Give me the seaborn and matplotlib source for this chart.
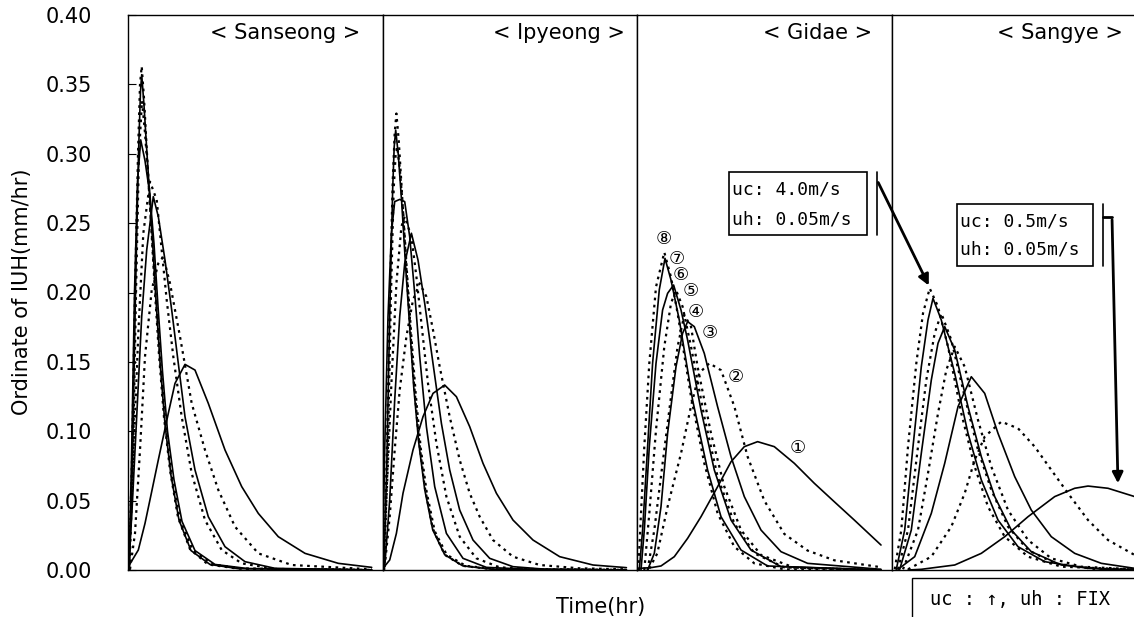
import matplotlib
matplotlib.use("Agg")
import numpy as np
import pandas as pd
import matplotlib.pyplot as plt
import seaborn as sns
from matplotlib.patches import Rectangle, FancyArrowPatch
from matplotlib.lines import Line2D

# ---------------- data (time in hr, ordinate in mm/hr) ----------------
STATIONS = ["< Sanseong >", "< Ipyeong >", "< Gidae >", "< Sangye >"]
CURVES = ["1", "2", "3", "4", "5", "6", "7", "8"]
CIRCLED = ["\u2460", "\u2461", "\u2462", "\u2463", "\u2464", "\u2465", "\u2466", "\u2467"]
Y_TICKS = [0.00, 0.05, 0.10, 0.15, 0.20, 0.25, 0.30, 0.35, 0.40]

SANSEONG_T = [
    [0.03, 1.03, 1.7, 2.37, 3.03, 4.03, 4.7, 5.7, 6.7, 8.03, 9.7, 11.37, 13.03, 15.03, 17.7, 21.03, 24.37],
    [0.2, 0.7, 1.2, 1.7, 2.37, 3.03, 3.53, 4.2, 5.2, 6.37, 7.7, 9.03, 10.7, 13.03, 16.37, 24.37],
    [0.03, 0.37, 0.87, 1.37, 1.87, 2.53, 3.03, 3.7, 4.37, 5.03, 5.7, 6.7, 8.03, 9.7, 11.7, 14.7, 24.37],
    [0.03, 0.37, 0.7, 1.03, 1.53, 2.2, 2.87, 3.37, 3.87, 4.53, 5.37, 6.37, 7.7, 9.37, 11.37, 14.7, 24.37],
    [0.1, 0.35, 0.65, 0.95, 1.27, 1.7, 2.2, 2.6, 3.0, 3.45, 3.95, 4.6, 5.4, 6.7, 8.7, 12.0, 24.37],
    [0.15, 0.5, 0.8, 1.1, 1.4, 1.7, 2.0, 2.4, 2.8, 3.25, 3.75, 4.4, 5.2, 6.5, 8.5, 11.5, 24.37],
    [0.15, 0.45, 0.75, 1.05, 1.25, 1.37, 1.6, 1.9, 2.35, 2.75, 3.2, 3.7, 4.3, 5.1, 6.3, 8.2, 11.0, 24.37],
    [0.1, 0.4, 0.7, 1.0, 1.2, 1.37, 1.6, 1.9, 2.3, 2.7, 3.1, 3.6, 4.2, 5.0, 6.2, 8.0, 11.0, 24.37],
]
SANSEONG_V = [
    [0.0024, 0.0144, 0.0336, 0.0565, 0.0793, 0.1129, 0.1345, 0.1482, 0.1441, 0.1201, 0.0865, 0.0601, 0.0408, 0.024, 0.012, 0.0048, 0.0019],
    [0.0005, 0.0264, 0.0865, 0.1538, 0.2018, 0.221, 0.2258, 0.2066, 0.1682, 0.1201, 0.0865, 0.0577, 0.0312, 0.012, 0.0036, 0.0005],
    [0.0024, 0.0384, 0.1105, 0.1826, 0.2306, 0.2691, 0.2547, 0.2234, 0.1874, 0.1489, 0.1105, 0.0721, 0.0384, 0.0168, 0.006, 0.0012, 0.0],
    [0.0024, 0.0504, 0.1105, 0.1706, 0.2426, 0.2799, 0.2667, 0.2306, 0.1946, 0.1538, 0.1105, 0.0697, 0.036, 0.0144, 0.0048, 0.0007, 0.0],
    [0.0, 0.08, 0.2, 0.28, 0.31, 0.295, 0.27, 0.235, 0.19, 0.143, 0.1, 0.065, 0.035, 0.014, 0.004, 0.001, 0.0],
    [0.0, 0.08, 0.2, 0.3, 0.338, 0.315, 0.285, 0.24, 0.195, 0.148, 0.105, 0.068, 0.036, 0.014, 0.004, 0.001, 0.0],
    [0.0, 0.08, 0.2, 0.3, 0.345, 0.357, 0.335, 0.3, 0.25, 0.2, 0.15, 0.105, 0.068, 0.036, 0.014, 0.004, 0.001, 0.0],
    [0.0, 0.08, 0.2, 0.3, 0.35, 0.363, 0.34, 0.3, 0.25, 0.2, 0.155, 0.11, 0.072, 0.038, 0.015, 0.004, 0.001, 0.0],
]

IPYEONG_T = [
    [0.03, 0.7, 1.37, 2.03, 3.03, 4.03, 5.03, 6.2, 7.37, 8.7, 10.03, 11.37, 13.03, 15.03, 17.7, 21.03, 24.37],
    [0.2, 0.7, 1.2, 1.7, 2.37, 3.03, 3.7, 4.37, 5.03, 5.7, 6.7, 7.7, 8.7, 9.7, 11.03, 13.03, 15.7, 19.7, 24.37],
    [0.2, 0.7, 1.2, 1.7, 2.2, 2.87, 3.53, 4.2, 5.03, 5.87, 6.7, 7.7, 9.03, 10.7, 13.03, 16.37, 24.37],
    [0.03, 0.37, 0.87, 1.37, 1.87, 2.2, 2.87, 3.37, 3.87, 4.53, 5.37, 6.37, 7.7, 9.37, 11.7, 15.7, 24.37],
    [0.0, 0.2, 0.53, 0.87, 1.2, 1.7, 2.2, 2.7, 3.2, 3.7, 4.37, 5.2, 6.37, 8.03, 10.37, 14.7, 24.37],
    [0.15, 0.5, 0.8, 1.1, 1.3, 1.45, 1.7, 2.05, 2.45, 2.85, 3.3, 3.8, 4.4, 5.2, 6.4, 8.3, 11.5, 24.37],
    [0.12, 0.42, 0.72, 1.0, 1.15, 1.3, 1.55, 1.9, 2.3, 2.7, 3.1, 3.6, 4.2, 5.0, 6.2, 8.0, 11.0, 24.37],
    [0.1, 0.4, 0.7, 1.0, 1.2, 1.37, 1.6, 1.9, 2.3, 2.7, 3.1, 3.6, 4.2, 5.0, 6.2, 8.0, 11.0, 24.37],
]
IPYEONG_V = [
    [0.0012, 0.0072, 0.0264, 0.0553, 0.0865, 0.1105, 0.1273, 0.1333, 0.1249, 0.1033, 0.0769, 0.0553, 0.036, 0.0216, 0.0096, 0.0036, 0.0017],
    [0.0024, 0.0384, 0.0865, 0.1297, 0.1682, 0.1946, 0.2066, 0.197, 0.173, 0.1465, 0.1105, 0.0793, 0.0553, 0.0384, 0.0216, 0.0096, 0.0036, 0.0012, 0.0005],
    [0.0024, 0.0504, 0.1225, 0.1826, 0.221, 0.2427, 0.2234, 0.1922, 0.1489, 0.1057, 0.0721, 0.0432, 0.0216, 0.0084, 0.0024, 0.0005, 0.0],
    [0.0024, 0.0504, 0.1345, 0.2066, 0.2475, 0.2547, 0.2402, 0.2114, 0.1778, 0.1345, 0.0913, 0.0529, 0.024, 0.0084, 0.0019, 0.0005, 0.0],
    [0.0024, 0.0865, 0.1826, 0.2427, 0.2655, 0.2671, 0.2655, 0.2402, 0.1994, 0.1538, 0.1033, 0.0601, 0.0264, 0.0084, 0.0019, 0.0005, 0.0],
    [0.0, 0.08, 0.19, 0.275, 0.3, 0.305, 0.29, 0.258, 0.212, 0.17, 0.127, 0.088, 0.056, 0.028, 0.011, 0.003, 0.0005, 0.0],
    [0.0, 0.08, 0.19, 0.275, 0.305, 0.317, 0.3, 0.265, 0.218, 0.175, 0.132, 0.092, 0.058, 0.029, 0.011, 0.003, 0.0005, 0.0],
    [0.0, 0.08, 0.19, 0.28, 0.315, 0.329, 0.31, 0.275, 0.225, 0.18, 0.137, 0.095, 0.06, 0.03, 0.011, 0.003, 0.0005, 0.0],
]

GIDAE_T = [
    [0.2, 1.37, 2.37, 3.7, 5.03, 6.37, 8.03, 9.37, 10.7, 12.03, 13.7, 15.7, 17.7, 19.7, 21.7, 24.37],
    [1.2, 2.0, 3.03, 4.37, 5.37, 6.2, 7.2, 8.37, 9.7, 11.03, 12.7, 14.7, 17.03, 19.7, 24.37],
    [1.03, 1.7, 2.37, 3.03, 3.87, 4.53, 5.03, 5.7, 6.7, 8.03, 9.37, 10.7, 12.37, 14.37, 17.03, 24.37],
    [1.03, 1.7, 2.53, 3.37, 4.03, 4.7, 5.37, 6.03, 7.37, 8.7, 10.37, 12.37, 15.7, 24.37],
    [0.37, 0.7, 1.2, 1.87, 2.53, 3.03, 3.63, 4.37, 5.03, 6.37, 7.7, 9.37, 11.37, 14.37, 24.37],
    [0.7, 1.2, 1.87, 2.7, 3.37, 3.87, 4.53, 5.37, 6.7, 8.03, 9.7, 11.7, 14.7, 24.37],
    [0.2, 0.53, 1.03, 1.53, 2.2, 2.77, 3.37, 4.2, 5.53, 7.03, 8.37, 10.37, 13.03, 24.37],
    [0.1, 0.37, 0.7, 1.2, 1.87, 2.7, 3.37, 4.03, 5.37, 6.7, 8.03, 9.7, 11.7, 14.7, 24.37],
]
GIDAE_V = [
    [0.0012, 0.0017, 0.0029, 0.0096, 0.0228, 0.0384, 0.06, 0.078, 0.0889, 0.0925, 0.0889, 0.0769, 0.0625, 0.0492, 0.036, 0.018],
    [0.001, 0.012, 0.0456, 0.084, 0.118, 0.142, 0.149, 0.144, 0.118, 0.0817, 0.05, 0.026, 0.014, 0.007, 0.002],
    [0.0, 0.012, 0.0456, 0.0985, 0.1465, 0.1706, 0.179, 0.1754, 0.1561, 0.1177, 0.0817, 0.0529, 0.0288, 0.0132, 0.0048, 0.0005],
    [0.0, 0.0288, 0.0769, 0.1249, 0.161, 0.1838, 0.1754, 0.1465, 0.0985, 0.0601, 0.0288, 0.0108, 0.0017, 0.0],
    [0.0, 0.0288, 0.0889, 0.1489, 0.1874, 0.1994, 0.2054, 0.1874, 0.1658, 0.1153, 0.0721, 0.036, 0.0144, 0.0024, 0.0],
    [0.0, 0.0408, 0.1009, 0.161, 0.1922, 0.2018, 0.1898, 0.161, 0.1105, 0.0673, 0.0336, 0.012, 0.0019, 0.0],
    [0.0, 0.0288, 0.0889, 0.149, 0.202, 0.2246, 0.209, 0.1801, 0.1225, 0.0721, 0.0384, 0.0144, 0.0029, 0.0],
    [0.0, 0.0408, 0.0889, 0.149, 0.204, 0.229, 0.211, 0.185, 0.125, 0.0769, 0.0408, 0.0168, 0.0048, 0.0005, 0.0],
]

SANGYE_T = [
    [1.6, 2.93, 6.27, 8.93, 11.27, 13.6, 16.27, 18.27, 19.6, 21.6, 24.27, 25.4],
    [1.6, 3.93, 5.93, 7.27, 8.27, 9.27, 10.93, 12.6, 14.27, 15.93, 17.6, 19.6, 21.6, 24.27, 25.4],
    [0.6, 2.27, 3.93, 5.27, 6.6, 7.93, 9.27, 10.6, 12.27, 13.93, 15.93, 18.27, 20.93, 24.27, 25.4],
    [1.1, 2.6, 3.6, 4.6, 5.43, 6.27, 7.27, 8.6, 9.93, 11.6, 13.6, 15.93, 18.93, 24.27, 25.4],
    [0.77, 1.93, 2.93, 3.93, 4.6, 5.27, 6.27, 7.6, 8.93, 10.27, 11.93, 13.93, 16.93, 21.27, 25.4],
    [0.6, 1.6, 2.6, 3.43, 4.27, 4.93, 5.93, 7.27, 8.6, 9.93, 11.6, 13.6, 16.27, 20.27, 25.4],
    [0.43, 1.27, 2.1, 2.93, 3.6, 4.1, 4.93, 6.27, 7.6, 8.93, 10.6, 12.6, 15.27, 19.6, 25.4],
    [0.27, 0.93, 1.6, 2.43, 3.1, 3.77, 4.6, 5.6, 6.93, 8.27, 9.6, 11.27, 13.6, 16.93, 25.4],
]
SANGYE_V = [
    [0.0, 0.0005, 0.0036, 0.012, 0.024, 0.0384, 0.0529, 0.0589, 0.0605, 0.0589, 0.0529, 0.05],
    [0.0005, 0.0096, 0.0312, 0.0553, 0.0793, 0.0961, 0.1069, 0.1021, 0.0889, 0.0721, 0.0553, 0.036, 0.0216, 0.0108, 0.008],
    [0.0005, 0.0096, 0.0408, 0.0769, 0.1177, 0.1393, 0.1273, 0.0985, 0.0673, 0.0432, 0.024, 0.012, 0.0048, 0.0012, 0.0008],
    [0.0005, 0.0288, 0.0697, 0.1129, 0.1441, 0.161, 0.1465, 0.1081, 0.0745, 0.0432, 0.0216, 0.0084, 0.0024, 0.0005, 0.0003],
    [0.0005, 0.0288, 0.0841, 0.1369, 0.1634, 0.1754, 0.1586, 0.1177, 0.0817, 0.0529, 0.0288, 0.0132, 0.0036, 0.0005, 0.0],
    [0.0005, 0.0288, 0.0889, 0.1369, 0.1706, 0.185, 0.1658, 0.1249, 0.0865, 0.0577, 0.0312, 0.0144, 0.0048, 0.0007, 0.0],
    [0.0005, 0.0288, 0.0889, 0.1465, 0.1802, 0.1958, 0.1802, 0.1417, 0.0985, 0.0649, 0.036, 0.0168, 0.006, 0.0012, 0.0],
    [0.0005, 0.0288, 0.0889, 0.1489, 0.185, 0.203, 0.1898, 0.161, 0.1129, 0.0745, 0.0456, 0.024, 0.0096, 0.0024, 0.0],
]

# circled-number label anchors (Gidae panel, data coords)
LABEL_T = [16.03, 9.87, 7.2, 5.87, 5.37, 4.37, 3.97, 2.63]
LABEL_V = [0.0877, 0.1393, 0.171, 0.1862, 0.2011, 0.2126, 0.2241, 0.2383]

# ---------------- build long-form table ----------------
rows = []
for st, TT, VV in zip(STATIONS, [SANSEONG_T, IPYEONG_T, GIDAE_T, SANGYE_T],
                      [SANSEONG_V, IPYEONG_V, GIDAE_V, SANGYE_V]):
    for cid, tt, vv in zip(CURVES, TT, VV):
        for t, v in zip(tt, vv):
            rows.append((st, cid, t, v))
df = pd.DataFrame(rows, columns=["station", "curve", "t", "v"])

# ---------------- figure ----------------
sns.set_style("white")
plt.rcParams["font.family"] = ["DejaVu Sans", "Noto Sans CJK KR"]
plt.rcParams["text.color"] = "black"
plt.rcParams["axes.labelcolor"] = "black"
plt.rcParams["ytick.color"] = "black"
plt.rcParams["xtick.color"] = "black"

W, H = 1134, 617
fig = plt.figure(figsize=(W / 100, H / 100), dpi=100)


def fx(x):
    return x / W


def fy(y):
    return 1 - y / H


PANEL_L = [128, 382.7, 637.3, 892]
PANEL_W = 254.7
TOP, BOT = 15, 570
TITLE_R = [360, 625, 872, 1123]

axes = []
for i, st in enumerate(STATIONS):
    ax = fig.add_axes([fx(PANEL_L[i]), fy(BOT), PANEL_W / W, (BOT - TOP) / H])
    sub = df[df["station"] == st]
    for j, cid in enumerate(CURVES):
        d = sub[sub["curve"] == cid]
        if j % 2 == 0:
            sns.lineplot(data=d, x="t", y="v", ax=ax, color="black", lw=1.2,
                         estimator=None, sort=False)
        else:
            sns.lineplot(data=d, x="t", y="v", ax=ax, color="black", lw=1.6,
                         linestyle=(0, (1.2, 2.0)), estimator=None, sort=False)
    ax.set_xlim(0, PANEL_W / 10)
    ax.set_ylim(0, 0.40)
    ax.set_xlabel("")
    ax.set_ylabel("")
    ax.set_xticks([])
    for sp in ax.spines.values():
        sp.set_color("black")
        sp.set_linewidth(1.0)
    if i == 0:
        ax.set_yticks(Y_TICKS)
        ax.set_yticklabels([f"{v:.2f}" for v in Y_TICKS])
        ax.tick_params(axis="y", direction="in", length=6, width=0.8,
                       pad=26, labelsize=15, left=True, labelcolor="black")
    else:
        ax.set_yticks([])
    ax.text((TITLE_R[i] - PANEL_L[i]) / PANEL_W, (BOT - 33) / (BOT - TOP), st,
            transform=ax.transAxes, ha="right", va="center", fontsize=15,
            color="black")
    axes.append(ax)

# circled numbers in Gidae panel
for lab, t, v in zip(CIRCLED, LABEL_T, LABEL_V):
    axes[2].text(t, v, lab, ha="center", va="center", fontsize=13, color="black",
                 family=["DejaVu Sans", "Noto Sans CJK KR"])

# axis labels
fig.text(fx(22), fy(292), "Ordinate of IUH(mm/hr)", rotation=90,
         ha="center", va="center", fontsize=15, color="black")
fig.text(fx(601), fy(607), "Time(hr)", ha="center", va="center", fontsize=15,
         color="black")

# annotation box 1 (Gidae)
fig.add_artist(Rectangle((fx(729), fy(235)), (867 - 729) / W, (235 - 172) / H,
                         transform=fig.transFigure, fill=False, ec="black", lw=1.2))
fig.text(fx(732), fy(189), "uc: 4.0m/s", family="DejaVu Sans Mono", fontsize=13,
         ha="left", va="center", color="black")
fig.text(fx(732), fy(219), "uh: 0.05m/s", family="DejaVu Sans Mono", fontsize=13,
         ha="left", va="center", color="black")
fig.add_artist(Line2D([fx(877), fx(877)], [fy(172), fy(235)], transform=fig.transFigure,
                      color="black", lw=1.2))
fig.add_artist(FancyArrowPatch((fx(877), fy(180)), (fx(930), fy(288)),
                               transform=fig.transFigure, arrowstyle="-|>",
                               mutation_scale=16, color="black", lw=2))

# annotation box 2 (Sangye)
fig.add_artist(Rectangle((fx(957), fy(266)), (1093 - 957) / W, (266 - 204) / H,
                         transform=fig.transFigure, fill=False, ec="black", lw=1.2))
fig.text(fx(960), fy(221), "uc: 0.5m/s", family="DejaVu Sans Mono", fontsize=13,
         ha="left", va="center", color="black")
fig.text(fx(960), fy(250), "uh: 0.05m/s", family="DejaVu Sans Mono", fontsize=13,
         ha="left", va="center", color="black")
fig.add_artist(Line2D([fx(1103), fx(1103)], [fy(204), fy(266)], transform=fig.transFigure,
                      color="black", lw=1.2))
fig.add_artist(Line2D([fx(1103), fx(1112)], [fy(217), fy(217)], transform=fig.transFigure,
                      color="black", lw=2))
fig.add_artist(FancyArrowPatch((fx(1112), fy(217)), (fx(1118), fy(486)),
                               transform=fig.transFigure, arrowstyle="-|>",
                               mutation_scale=16, color="black", lw=2))

# bottom-right note box
fig.add_artist(Rectangle((fx(912), fy(640)), (1160 - 912) / W, (640 - 578) / H,
                         transform=fig.transFigure, fill=False, ec="black", lw=1.0))
fig.text(fx(930), fy(599), "uc : \u2191, uh : FIX", family="DejaVu Sans Mono",
         fontsize=13.5, ha="left", va="center", color="black")

fig.savefig("out.png", dpi=100)
